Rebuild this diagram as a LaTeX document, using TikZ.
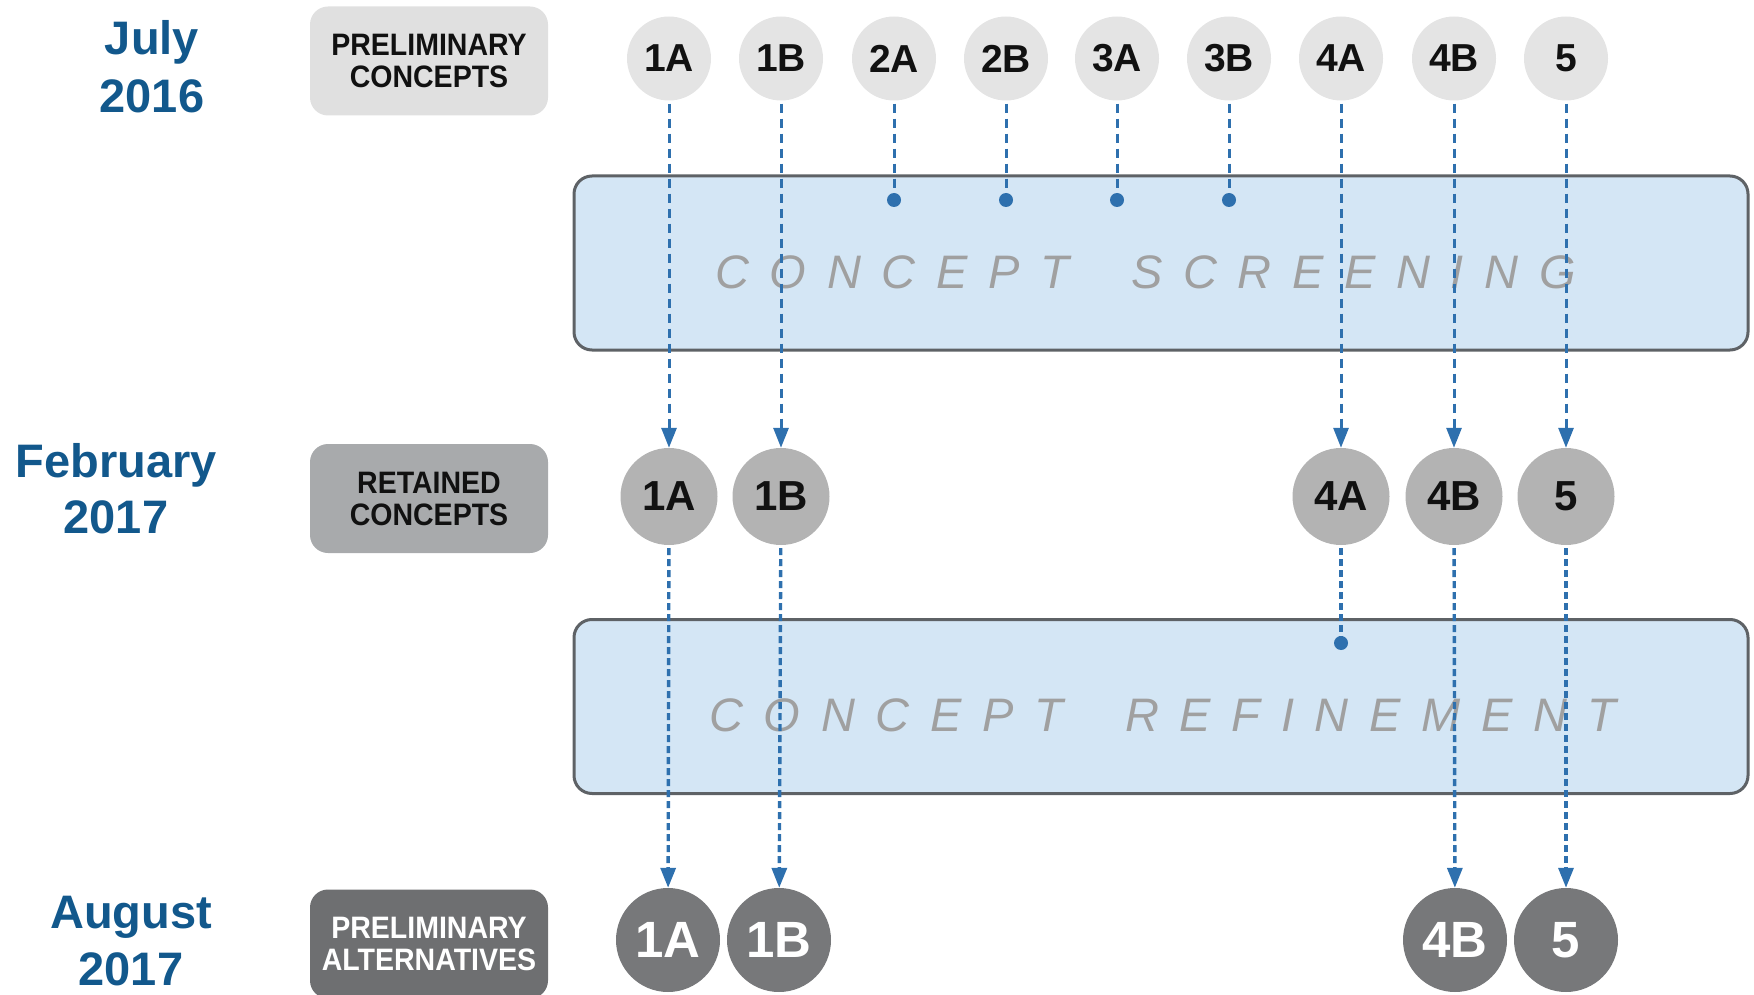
\documentclass[tikz,border=0pt]{standalone}
\usepackage{fontspec}
\setmainfont{Liberation Sans}
\newfontfamily\spacedfont[LetterSpace=44]{Liberation Sans}
\newfontfamily\narrowfont[FakeStretch=0.92]{Liberation Sans}
\usetikzlibrary{arrows.meta}

\definecolor{datecol}{RGB}{18,88,140}
\definecolor{linecol}{RGB}{46,112,174}
\definecolor{toplight}{RGB}{228,228,228}
\definecolor{toplabel}{RGB}{224,224,224}
\definecolor{midgray}{RGB}{179,179,179}
\definecolor{midlabel}{RGB}{168,170,172}
\definecolor{darkgray}{RGB}{119,120,122}
\definecolor{darklabel}{RGB}{110,111,113}
\definecolor{phasefill}{RGB}{212,230,245}
\definecolor{phaseedge}{RGB}{94,98,102}
\definecolor{phasetext}{RGB}{160,160,160}
\definecolor{inktext}{RGB}{17,17,17}

\begin{document}
\begin{tikzpicture}[x=1pt,y=-1pt,
  datetext/.style={font=\bfseries\fontsize{47}{56}\selectfont, text=datecol, anchor=base, inner sep=0pt},
  labelbox/.style={rounded corners=18pt, minimum width=238pt, minimum height=109pt,
    align=center, inner sep=0pt, font=\narrowfont\bfseries\fontsize{31}{32}\selectfont},
  topcirc/.style={circle, fill=toplight, minimum size=84pt, inner sep=0pt, text=inktext,
    font=\bfseries\fontsize{39}{39}\selectfont},
  midcirc/.style={circle, fill=midgray, minimum size=97pt, inner sep=0pt, text=inktext,
    font=\bfseries\fontsize{42}{42}\selectfont},
  lowcirc/.style={circle, fill=darkgray, minimum size=104pt, inner sep=0pt, text=white,
    font=\bfseries\fontsize{51}{51}\selectfont},
  phase/.style={draw=phaseedge, line width=3pt, fill=phasefill, rounded corners=18pt,
    minimum width=1174pt, minimum height=174pt, inner sep=0pt},
  phaselabel/.style={font=\spacedfont\itshape\fontsize{47}{47}\selectfont, text=phasetext,
    anchor=base west, inner sep=0pt},
  flow/.style={draw=linecol, line width=3pt, dash pattern=on 9pt off 6pt, shorten <=3pt},
  lowflow/.style={flow, line width=3.4pt, dash pattern=on 7pt off 4pt},
  tip/.style={-{Triangle[length=20pt,width=15pt]}},
  dot/.style={fill=linecol},
]
\useasboundingbox (0,0) rectangle (1754,995);
\clip (0,0) rectangle (1754,995);

% dates
\node[datetext] (jul) at (152,55) {July};
\node[datetext] (jul16) at (152,113) {2016};
\node[datetext] (feb) at (116,477) {February};
\node[datetext] (feb17) at (116,533) {2017};
\node[datetext] (aug) at (131,928) {August};
\node[datetext] (aug17) at (131,985) {2017};

% stage labels
\node[labelbox, fill=toplabel, text=inktext] (prelim) at (429,61) {PRELIMINARY\\CONCEPTS};
\node[labelbox, fill=midlabel, text=inktext] (retained) at (429,498.5) {RETAINED\\CONCEPTS};
\node[labelbox, fill=darklabel, text=white] (alts) at (429,944) {PRELIMINARY\\ALTERNATIVES};

% phases
\node[phase] (screen) at (1161,263) {};
\node[phaselabel] (screentxt) at (715,288) {CONCEPT\hskip 62pt SCREENING};
\node[phase] (refine) at (1161,706.5) {};
\node[phaselabel] (refinetxt) at (709,731) {CONCEPT\hskip 62pt REFINEMENT};

% concepts
\foreach \n/\x in {1A/669,1B/781,2A/894,2B/1006,3A/1117,3B/1229,4A/1341,4B/1454,5/1566}
  \node[topcirc] (t\n) at (\x,58.5) {\n};
\foreach \n/\x in {1A/669,1B/781,4A/1341,4B/1454,5/1566}
  \node[midcirc] (m\n) at (\x,496.5) {\n};
\foreach \n/\x in {1A/668,1B/779,4B/1455,5/1566}
  \node[lowcirc] (b\n) at (\x,940) {\n};

% screening: concepts dropped
\foreach \n/\x in {2A/894,2B/1006,3A/1117,3B/1229} {
  \coordinate (s\n) at (\x,200);
  \draw[flow] (t\n) -- (s\n);
  \fill[dot] (s\n) circle (7pt);
}
% screening: concepts retained
\foreach \n in {1A,1B,4A,4B,5}
  \draw[flow, tip] (t\n) -- (m\n);

% refinement
\coordinate (r4A) at (1341,643);
\draw[lowflow] (m4A) -- (r4A);
\fill[dot] (r4A) circle (7pt);
\foreach \n in {1A,1B,4B,5}
  \draw[lowflow, tip] (m\n) -- (b\n);
\end{tikzpicture}
\end{document}
